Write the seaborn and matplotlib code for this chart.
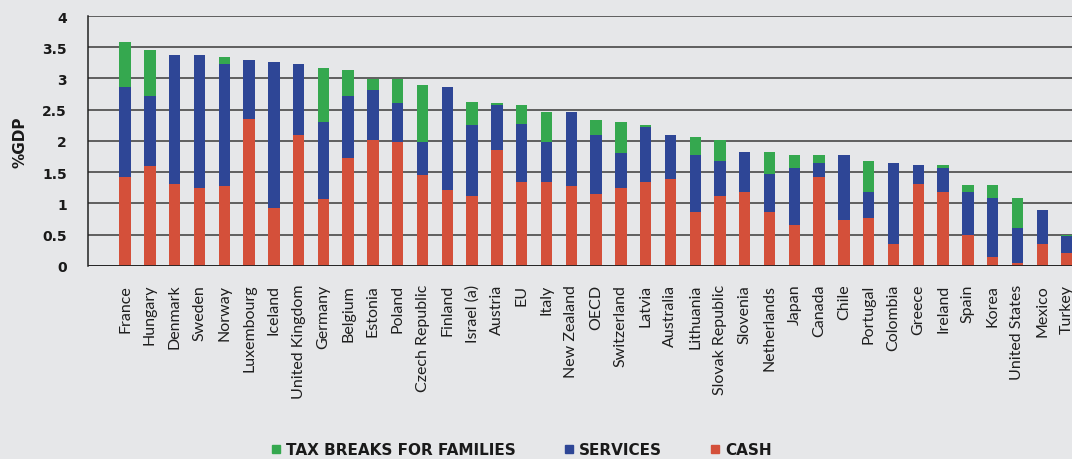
import matplotlib
matplotlib.use("Agg")
import matplotlib.pyplot as plt
from matplotlib.lines import Line2D
import pandas as pd
import seaborn as sns

# Public spending on family benefits, % of GDP
countries = ["France", "Hungary", "Denmark", "Sweden", "Norway", "Luxembourg", "Iceland",
             "United Kingdom", "Germany", "Belgium", "Estonia", "Poland", "Czech Republic",
             "Finland", "Israel (a)", "Austria", "EU", "Italy", "New Zealand", "OECD",
             "Switzerland", "Latvia", "Australia", "Lithuania", "Slovak Republic", "Slovenia",
             "Netherlands", "Japan", "Canada", "Chile", "Portugal", "Colombia", "Greece",
             "Ireland", "Spain", "Korea", "United States", "Mexico", "Turkey"]
cash = [1.42, 1.60, 1.31, 1.25, 1.27, 2.35, 0.92, 2.10, 1.07, 1.72, 2.01, 1.98, 1.45,
        1.21, 1.12, 1.86, 1.34, 1.34, 1.27, 1.15, 1.24, 1.34, 1.39, 0.86, 1.12, 1.18,
        0.86, 0.65, 1.42, 0.74, 0.76, 0.35, 1.31, 1.18, 0.50, 0.14, 0.05, 0.35, 0.20]
services = [1.45, 1.12, 2.07, 2.13, 1.96, 0.94, 2.34, 1.13, 1.23, 1.00, 0.80, 0.62, 0.53,
            1.66, 1.13, 0.71, 0.93, 0.64, 1.19, 0.95, 0.56, 0.88, 0.71, 0.91, 0.56, 0.65,
            0.61, 0.92, 0.23, 1.03, 0.42, 1.30, 0.31, 0.39, 0.68, 0.95, 0.56, 0.54, 0.27]
tax_breaks = [0.71, 0.74, 0.00, 0.00, 0.12, 0.00, 0.00, 0.00, 0.87, 0.42, 0.18, 0.39, 0.92,
              0.00, 0.38, 0.04, 0.30, 0.48, 0.00, 0.24, 0.51, 0.03, 0.00, 0.30, 0.33, 0.00,
              0.36, 0.20, 0.12, 0.00, 0.50, 0.00, 0.00, 0.05, 0.12, 0.21, 0.48, 0.00, 0.03]
yticks = [0, 0.5, 1, 1.5, 2, 2.5, 3, 3.5, 4]

df = pd.DataFrame({"country": countries, "cash": cash, "services": services, "tax": tax_breaks})
df["cash_services"] = df["cash"] + df["services"]
df["total"] = df["cash_services"] + df["tax"]

bg = "#e6e7e9"
green = "#35a84f"
blue = "#2e4696"
red = "#d4503a"

sns.set_style("white")
plt.rcParams["font.family"] = ["DejaVu Sans"]

fig = plt.figure(figsize=(10.72, 4.6), dpi=100, facecolor=bg)
ax = fig.add_axes([0.082, 0.42, 0.918, 0.543])
ax.set_facecolor(bg)

# stacked bars drawn as cumulative layers
for col, c in [("total", green), ("cash_services", blue), ("cash", red)]:
    sns.barplot(data=df, x="country", y=col, color=c, width=0.46, saturation=1,
                linewidth=0, ax=ax, zorder=3)

ax.set_xlim(-1.5, 38.2)
ax.set_ylim(0, 4)
ax.set_yticks(yticks)
ax.set_yticklabels([f"{t:g}" for t in yticks], fontsize=10, fontweight="bold", color="#1a1a1a")
ax.yaxis.grid(True, color="#3a3a3a", linewidth=1.1, zorder=0)
ax.set_axisbelow(True)
ax.tick_params(axis="y", length=0, pad=15)
ax.tick_params(axis="x", length=0, pad=13)
plt.setp(ax.get_xticklabels(), rotation=90, fontsize=11.5, color="#1e1e1e", family=["Lato", "DejaVu Sans"])
ax.set_xlabel("")
ax.set_ylabel("%GDP", fontsize=11, fontweight="bold", labelpad=11, color="#1a1a1a")

for s in ["top", "right", "bottom"]:
    ax.spines[s].set_visible(False)
ax.spines["left"].set_color("#222222")
ax.spines["left"].set_linewidth(1.1)
ax.axhline(0, color="#222222", linewidth=1.3, zorder=4)

handles = [Line2D([], [], marker="s", linestyle="", color=c, markersize=6) for c in (green, blue, red)]
fig.legend(handles, ["TAX BREAKS FOR FAMILIES", "SERVICES", "CASH"], loc="center",
           bbox_to_anchor=(0.485, 0.02), ncol=3, frameon=False, handletextpad=0.15,
           handlelength=1.0, columnspacing=3.0,
           prop={"size": 11, "weight": "bold"}, labelcolor="#1a1a1a")

fig.savefig("out.png", dpi=100, facecolor=bg)
